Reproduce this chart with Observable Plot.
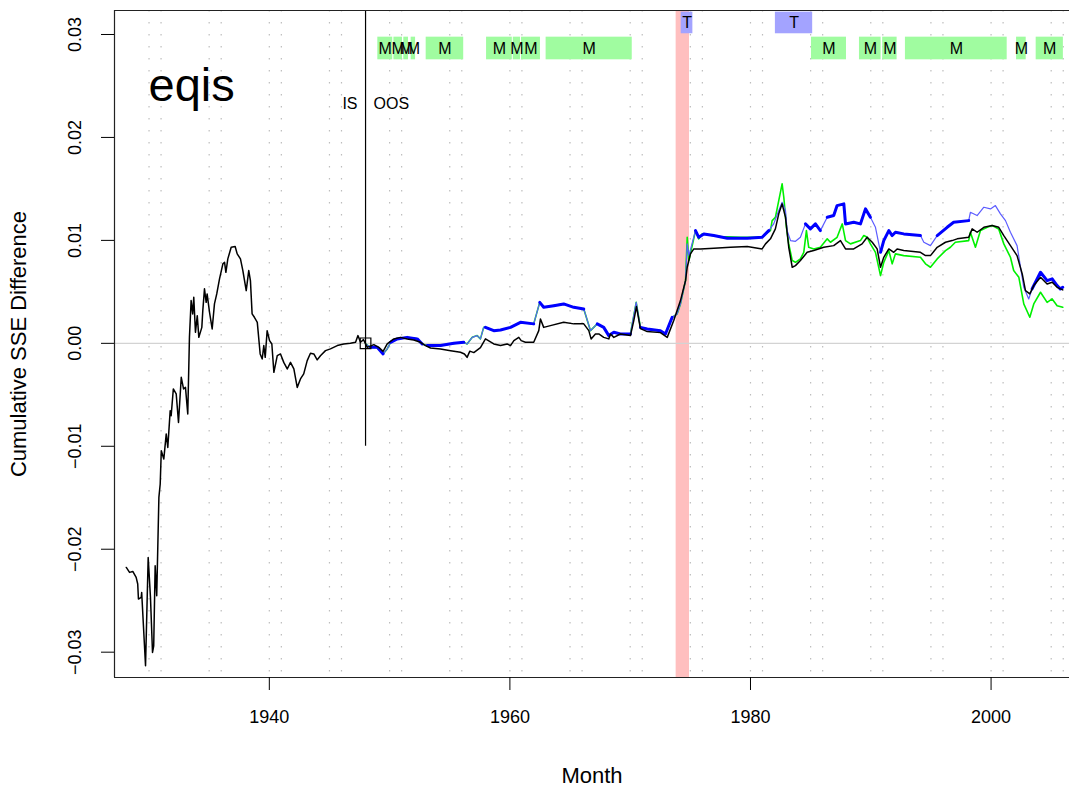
<!DOCTYPE html>
<html><head><meta charset="utf-8">
<script src="https://cdn.jsdelivr.net/npm/d3@7"></script>
<script src="https://cdn.jsdelivr.net/npm/@observablehq/plot@0.6"></script>
<style>html,body{margin:0;padding:0;overflow:hidden;background:#fff;}</style>
</head><body><div id="chart"></div>
<script>
// ---- Data ----
const blackYears = [1928.11,1928.38,1928.65,1928.93,1929.06,1929.12,1929.35,1929.39,1929.71,1929.93,
1930.12,1930.29,1930.39,1930.51,1930.64,1930.82,1930.93,1931.02,1931.23,1931.43,
1931.56,1931.76,1931.84,1932.02,1932.26,1932.45,1932.68,1932.87,1933.03,1933.22,
1933.36,1933.50,1933.63,1933.72,1933.86,1934.01,1934.14,1934.39,1934.47,1934.61,
1934.75,1934.83,1935.03,1935.25,1935.44,1935.63,1935.86,1936.14,1936.28,1936.39,
1936.55,1936.83,1937.16,1937.33,1937.60,1937.80,1938.08,1938.29,1938.43,1938.57,
1938.76,1939.00,1939.24,1939.41,1939.54,1939.66,1939.82,1940.02,1940.21,1940.38,
1940.66,1940.93,1941.20,1941.49,1941.76,1942.04,1942.32,1942.59,1942.86,1943.15,
1943.42,1943.70,1943.98,1944.25,1944.67,1945.08,1945.65,1946.19,1946.74,1947.17,
1947.37,1947.58,1947.83,1948.14,1948.69,1949.10,1949.46,1949.80,1950.35,1950.90,
1951.46,1952.01,1952.57,1952.98,1953.40,1954.23,1955.07,1955.89,1956.22,1956.44,
1956.67,1957.00,1957.55,1957.97,1958.66,1959.22,1959.77,1960.05,1960.33,1960.74,
1960.94,1961.29,1961.98,1962.40,1962.54,1962.81,1963.37,1964.47,1965.31,1966.14,
1966.56,1966.75,1967.11,1967.39,1967.80,1968.22,1968.36,1968.64,1969.19,1970.02,
1970.30,1970.52,1970.85,1971.42,1972.51,1973.08,1973.62,1974.18,1974.60,1974.74,
1975.01,1975.29,1975.84,1976.95,1978.34,1979.73,1980.97,1981.25,1981.66,1982.07,
1982.35,1982.63,1982.91,1983.18,1983.47,1983.74,1984.15,1984.71,1985.26,1986.09,
1986.92,1987.48,1987.90,1988.58,1989.28,1989.70,1990.12,1990.53,1990.81,1991.08,
1991.50,1991.91,1992.19,1992.74,1994.13,1994.55,1994.96,1995.52,1996.21,1996.76,
1997.18,1998.14,1998.43,1998.84,1999.40,2000.09,2000.64,2001.06,2001.61,2002.16,
2002.59,2002.86,2003.22,2003.55,2004.11,2004.66,2005.08,2005.49,2005.96];
const blackValues = [-0.02177,-0.02225,-0.02216,-0.02274,-0.02338,-0.02484,-0.02468,-0.02420,-0.03132,-0.02080,
-0.02468,-0.03003,-0.02938,-0.02160,-0.02452,-0.01497,-0.01366,-0.01043,-0.01123,-0.00880,
-0.01011,-0.00654,-0.00703,-0.00443,-0.00492,-0.00768,-0.00330,-0.00443,-0.00428,-0.00686,
0.00058,0.00415,0.00286,0.00447,0.00107,0.00269,0.00058,0.00155,0.00318,0.00529,
0.00398,0.00480,0.00301,0.00140,0.00383,0.00480,0.00626,0.00772,0.00787,0.00690,
0.00820,0.00933,0.00940,0.00869,0.00820,0.00707,0.00512,0.00707,0.00609,0.00286,
0.00253,0.00204,-0.00103,-0.00152,-0.00022,-0.00136,0.00123,0.00026,-0.00006,-0.00282,
-0.00120,-0.00103,-0.00185,-0.00249,-0.00185,-0.00249,-0.00428,-0.00346,-0.00297,-0.00168,
-0.00097,-0.00103,-0.00161,-0.00120,-0.00071,-0.00054,-0.00022,-0.00006,0.00000,0.00010,
0.00075,0.00010,0.00036,-0.00039,-0.00013,-0.00039,-0.00078,-0.00006,0.00043,0.00058,
0.00043,0.00033,0.00010,-0.00022,-0.00045,-0.00054,-0.00071,-0.00087,-0.00103,-0.00136,
-0.00076,-0.00090,-0.00042,0.00043,-0.00006,-0.00022,-0.00006,-0.00022,0.00026,0.00058,
0.00026,0.00010,0.00010,0.00123,0.00237,0.00155,0.00172,0.00204,0.00189,0.00189,
0.00123,0.00043,0.00091,0.00091,0.00058,0.00043,0.00091,0.00058,0.00091,0.00075,
0.00221,0.00357,0.00143,0.00114,0.00104,0.00058,0.00221,0.00415,0.00609,0.00739,
0.00869,0.00917,0.00917,0.00923,0.00933,0.00940,0.00917,0.00966,0.01015,0.01112,
0.01258,0.01355,0.01224,0.00933,0.00739,0.00755,0.00804,0.00884,0.00901,0.00933,
0.00949,0.00998,0.00917,0.00917,0.00966,0.01030,0.00982,0.00917,0.00739,0.00836,
0.00917,0.00884,0.00917,0.00901,0.00884,0.00852,0.00852,0.00933,0.00982,0.00998,
0.01015,0.01030,0.01112,0.01079,0.01127,0.01144,0.01127,0.01047,0.00949,0.00852,
0.00674,0.00512,0.00480,0.00561,0.00641,0.00577,0.00593,0.00544,0.00519];

const blueYears = [1948.00,1948.41,1948.97,1949.46,1949.80,1950.08,1950.63,1951.46,1952.30,1952.71,
1953.12,1954.23,1955.34,1956.16,1956.44,1956.87,1957.28,1957.55,1957.82,1957.97,
1958.66,1959.22,1960.05,1960.88,1961.98,1962.48,1962.81,1963.65,1964.47,1965.31,
1966.14,1966.70,1967.26,1967.80,1968.22,1968.64,1969.19,1970.02,1970.50,1970.85,
1971.42,1972.51,1972.93,1973.49,1973.90,1974.18,1974.60,1974.74,1974.88,1975.43,
1975.70,1976.12,1976.95,1978.07,1979.73,1980.97,1981.52,1981.93,1982.35,1982.63,
1982.91,1983.05,1983.33,1983.74,1984.15,1984.57,1984.98,1985.40,1985.81,1986.38,
1986.92,1987.20,1987.76,1987.90,1988.58,1989.14,1989.56,1989.97,1990.39,1990.81,
1991.08,1991.50,1991.78,1992.05,1992.74,1994.13,1994.41,1994.96,1995.52,1996.35,
1996.89,1998.14,1998.28,1998.84,1999.40,1999.95,2000.36,2000.78,2001.20,2001.61,
2002.16,2002.45,2002.72,2003.13,2003.41,2004.11,2004.66,2005.08,2005.49,2005.75,
2005.96];
const blueValues = [-0.00006,-0.00039,-0.00039,-0.00103,-0.00054,0.00010,0.00043,0.00058,0.00043,-0.00006,
-0.00022,-0.00022,0.00000,0.00010,-0.00006,0.00058,0.00075,0.00043,0.00155,0.00155,
0.00123,0.00130,0.00155,0.00204,0.00189,0.00398,0.00350,0.00366,0.00383,0.00350,
0.00334,0.00123,0.00189,0.00155,0.00075,0.00107,0.00091,0.00091,0.00398,0.00155,
0.00140,0.00123,0.00091,0.00253,0.00286,0.00383,0.00609,0.00966,0.00852,0.01095,
0.01030,0.01063,0.01047,0.01020,0.01020,0.01030,0.01095,0.01160,0.01290,0.01370,
0.01290,0.01095,0.00998,0.00991,0.01030,0.01160,0.01112,0.01160,0.01095,0.01224,
0.01241,0.01338,0.01355,0.01160,0.01176,0.01160,0.01306,0.01224,0.01127,0.00884,
0.00998,0.01095,0.01047,0.01079,0.01063,0.01047,0.00982,0.00949,0.01047,0.01127,
0.01176,0.01192,0.01273,0.01241,0.01322,0.01306,0.01338,0.01258,0.01192,0.01079,
0.00949,0.00739,0.00544,0.00431,0.00529,0.00690,0.00609,0.00626,0.00561,0.00529,
0.00544];

const greenYears = [1948.00,1948.41,1948.97,1949.46,1949.80,1950.08,1950.63,1951.46,1952.30,1952.71,
1953.12,1954.23,1955.34,1956.16,1956.44,1956.87,1957.28,1957.55,1957.82,1957.97,
1958.66,1959.22,1960.05,1960.88,1961.98,1962.48,1962.81,1963.65,1964.47,1965.31,
1966.14,1966.70,1967.26,1967.80,1968.22,1968.64,1969.19,1970.02,1970.50,1970.85,
1971.42,1972.51,1972.93,1973.49,1973.90,1974.18,1974.60,1974.74,1974.88,1975.43,
1975.70,1975.98,1976.40,1977.50,1979.16,1980.97,1981.25,1981.66,1981.80,1982.07,
1982.35,1982.63,1982.77,1982.99,1983.18,1983.47,1983.74,1984.15,1984.43,1984.65,
1984.84,1985.26,1985.81,1986.38,1986.65,1987.20,1987.63,1987.90,1988.31,1989.14,
1989.42,1989.70,1989.97,1990.39,1990.81,1991.08,1991.50,1991.78,1992.05,1992.74,
1994.13,1994.55,1994.96,1995.52,1996.21,1996.62,1997.03,1998.14,1998.28,1998.70,
1999.12,1999.68,2000.09,2000.64,2001.06,2001.61,2001.88,2002.31,2002.72,2003.22,
2003.55,2004.11,2004.66,2005.08,2005.49,2005.96];
const greenValues = [-0.00006,-0.00039,-0.00039,-0.00103,-0.00054,0.00010,0.00043,0.00058,0.00043,-0.00006,
-0.00022,-0.00022,0.00000,0.00010,-0.00006,0.00058,0.00075,0.00043,0.00155,0.00155,
0.00123,0.00130,0.00155,0.00204,0.00189,0.00398,0.00350,0.00366,0.00383,0.00350,
0.00334,0.00123,0.00189,0.00155,0.00075,0.00107,0.00091,0.00091,0.00398,0.00155,
0.00140,0.00123,0.00091,0.00253,0.00286,0.00383,0.00609,0.01030,0.00804,0.01095,
0.01015,0.01063,0.01056,0.01037,0.01030,0.01030,0.01063,0.01095,0.01192,0.01224,
0.01387,0.01549,0.01419,0.01127,0.00966,0.00804,0.00787,0.00820,0.00884,0.01095,
0.00933,0.00917,0.00933,0.01015,0.00982,0.01030,0.01160,0.00998,0.00966,0.00998,
0.01047,0.01030,0.00966,0.00884,0.00658,0.00787,0.00901,0.00772,0.00869,0.00852,
0.00836,0.00772,0.00739,0.00820,0.00901,0.00933,0.00982,0.00998,0.01079,0.00933,
0.01095,0.01127,0.01144,0.01109,0.00966,0.00836,0.00707,0.00641,0.00383,0.00253,
0.00383,0.00496,0.00398,0.00431,0.00366,0.00350];

// periods where the blue line is drawn heavy
const blueBoldStart = [1948.3,1950.2,1953.0,1958.0,1960.3,1962.6,1967.2,1970.8,1975.3,1984.5,1986.3,1990.9,1995.3,2003.4];
const blueBoldEnd   = [1949.5,1952.6,1956.3,1960.0,1961.9,1966.2,1970.0,1973.3,1981.3,1986.0,1990.0,1994.0,1998.2,2006.0];

// annotation periods
const mStart = [1949.02,1950.36,1951.18,1951.79,1953.04,1958.06,1960.28,1960.96,1963.01,1985.07,1989.06,1990.99,1992.88,2002.12,2003.75];
const mEnd   = [1950.26,1951.07,1951.57,1952.16,1956.16,1960.20,1960.88,1962.54,1970.17,1987.98,1990.86,1992.19,2001.34,2002.92,2006.01];
const tStart = [1974.24,1982.07];
const tEnd   = [1975.21,1985.17];
const crisisStart = [1973.82];
const crisisEnd   = [1974.93];
const mBand = [0.02754, 0.02974];
const tBand = [0.03007, 0.03217];
const oosYear = 1948;
const oosLineBottom = -0.01;
const labelLevel = 0.0233;
const marker = {year: 1948, value: 0};
const seriesLabel = {text: "eqis", year: 1929.96, value: 0.0250};

const gridYears = [];
for (let y = 1930; y <= 2005; y += 5) gridYears.push(y, y + 1);
const xTicks = [1940, 1960, 1980, 2000];
const yTicks = [-0.03, -0.02, -0.01, 0, 0.01, 0.02, 0.03];
const xDomain = [1927.13, 2006.52];
const yDomain = [-0.03246, 0.03233];

// ---- build tables ----
const black = blackYears.map((x, i) => ({x, y: blackValues[i]}));
const green = greenYears.map((x, i) => ({x, y: greenValues[i]}));
const blue = blueYears.map((x, i) => ({x, y: blueValues[i]}));
const isBold = x => blueBoldStart.some((s, i) => x >= s && x <= blueBoldEnd[i]);
// heavy runs: consecutive segments whose midpoint lies in a heavy period
const blueBold = [];
let seg = 0, inRun = false;
for (let i = 0; i < blue.length - 1; i++) {
  const a = blue[i], b = blue[i + 1];
  if (isBold((a.x + b.x) / 2)) {
    if (!inRun) { seg++; blueBold.push({...a, seg}); inRun = true; }
    blueBold.push({...b, seg});
  } else inRun = false;
}
const mBoxes = mStart.map((s, i) => ({x1: s, x2: mEnd[i], label: "M"}));
const tBoxes = tStart.map((s, i) => ({x1: s, x2: tEnd[i], label: "T"}));
const crisis = crisisStart.map((s, i) => ({x1: s, x2: crisisEnd[i]}));
const fmtY = d => d === 0 ? "0.00" : d.toFixed(2).replace("-", "\u2212");

const font = "'Liberation Sans', Arial, Helvetica, sans-serif";

const chart = Plot.plot({
  width: 1069,
  height: 791,
  marginLeft: 114,
  marginRight: 0,
  marginTop: 10,
  marginBottom: 114,
  style: {fontFamily: font, background: "#fff", color: "#000"},
  x: {domain: xDomain, axis: null},
  y: {domain: yDomain, axis: null},
  marks: [
    Plot.rect(crisis, {x1: "x1", x2: "x2", fill: "#ffbfbf"}),
    Plot.ruleX(gridYears, {stroke: "#bdbdbd", strokeDasharray: "1.5,10.5", strokeWidth: 1.2}),
    Plot.ruleY([0], {stroke: "#d3d3d3", strokeWidth: 1.2}),
    Plot.rect(mBoxes, {x1: "x1", x2: "x2", y1: mBand[0], y2: mBand[1], fill: "#a0fca0"}),
    Plot.rect(tBoxes, {x1: "x1", x2: "x2", y1: tBand[0], y2: tBand[1], fill: "#a3a3ff"}),
    Plot.text(mBoxes, {x: d => (d.x1 + d.x2) / 2, y: (mBand[0] + mBand[1]) / 2, text: "label", fontSize: 16, fill: "#000"}),
    Plot.text(tBoxes, {x: d => (d.x1 + d.x2) / 2, y: (tBand[0] + tBand[1]) / 2, text: "label", fontSize: 16, fill: "#000"}),
    Plot.line(green, {x: "x", y: "y", stroke: "#00f000", strokeWidth: 1.6}),
    Plot.line(blue, {x: "x", y: "y", stroke: "#5c5cff", strokeWidth: 1.2}),
    Plot.line(blueBold, {x: "x", y: "y", z: "seg", stroke: "#0000ff", strokeWidth: 3}),
    Plot.line(black, {x: "x", y: "y", stroke: "#000", strokeWidth: 1.5}),
    Plot.ruleX([oosYear], {y1: oosLineBottom, y2: yDomain[1], stroke: "#000", strokeWidth: 1.2}),
    Plot.text(["IS"], {x: oosYear, y: labelLevel, text: d => d, textAnchor: "end", dx: -8, fontSize: 16}),
    Plot.text(["OOS"], {x: oosYear, y: labelLevel, text: d => d, textAnchor: "start", dx: 8, fontSize: 16}),
    Plot.dot([marker], {x: "year", y: "value", symbol: "square", r: 6, stroke: "#000", strokeWidth: 1.2, fill: "none"}),
    Plot.text([seriesLabel], {x: "year", y: "value", text: "text", textAnchor: "start", fontSize: 47}),
    // plot box: top, bottom and left (right side lies beyond the picture)
    Plot.ruleY(yDomain, {stroke: "#222", strokeWidth: 1.2}),
    Plot.ruleX([xDomain[0]], {stroke: "#222", strokeWidth: 1.2}),
    Plot.axisX({ticks: xTicks, tickSize: 13, tickPadding: 20, tickFormat: d => String(d), fontSize: 18, anchor: "bottom", label: null}),
    Plot.axisY({ticks: yTicks, tickSize: 13, tickFormat: () => "", anchor: "left", label: null}),
    Plot.text(yTicks, {y: d => d, text: fmtY, frameAnchor: "left", dx: -39, rotate: -90, textAnchor: "middle", lineAnchor: "middle", fontSize: 18}),
    Plot.text(["Month"], {frameAnchor: "bottom", dy: 98, lineAnchor: "middle", text: d => d, fontSize: 22}),
    Plot.text(["Cumulative SSE Difference"], {frameAnchor: "left", dx: -96, rotate: -90, textAnchor: "middle", lineAnchor: "middle", text: d => d, fontSize: 22})
  ]
});
document.getElementById("chart").appendChild(chart);
</script>
</body></html>
